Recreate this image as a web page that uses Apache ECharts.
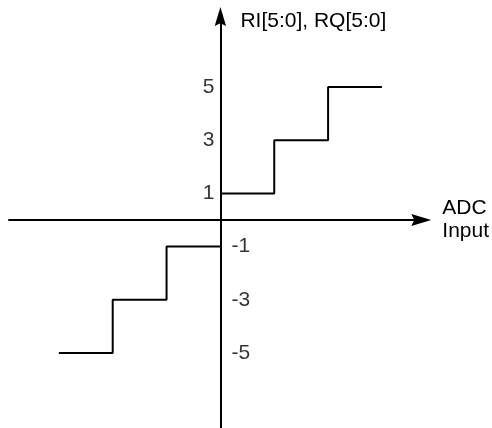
<!DOCTYPE html>
<html>
<head>
<meta charset="utf-8">
<script src="https://cdn.jsdelivr.net/npm/echarts@6/dist/echarts.min.js"></script>
<style>
  html, body { margin: 0; padding: 0; background: #fff; }
  #chart { width: 492px; height: 428px; }
</style>
</head>
<body>
<div id="chart"></div>
<script>
// staircase levels (step: 'end' draws the horizontal run first)
const posX = [0, 1, 2, 3];
const posY = [1, 3, 5, 5];
const negX = [0, -1, -2, -3];
const negY = [-1, -3, -5, -5];

// level labels on the vertical axis
const posLabels = [1, 3, 5];
const negLabels = [-1, -3, -5];

const xName = 'ADC\nInput';
const yName = 'RI[5:0], RQ[5:0]';

const font = 'Liberation Sans, Arial, Helvetica, sans-serif';
const arrowPath = 'path://M6,0 L12,20 L6,17 L0,20 Z';

const chart = echarts.init(document.getElementById('chart'));

const option = {
  animation: false,
  // axis ends sit half an arrow short of the tips
  grid: { left: 9, top: 16.5, width: 413.5, height: 411.5 },
  xAxis: {
    type: 'value',
    min: -3.926,
    max: 3.731,
    axisLine: {
      onZero: true,
      symbol: ['none', arrowPath],
      symbolSize: [12, 21],
      lineStyle: { color: '#000', width: 2 }
    },
    axisTick: { show: false },
    axisLabel: { show: false },
    splitLine: { show: false },
    name: xName,
    nameLocation: 'end',
    nameGap: 21,
    nameTextStyle: {
      color: '#000', fontSize: 21, fontFamily: font,
      align: 'left', verticalAlign: 'middle', lineHeight: 23
    }
  },
  yAxis: {
    type: 'value',
    min: -7.82,
    max: 7.65,
    axisLine: {
      onZero: true,
      symbol: ['none', arrowPath],
      symbolSize: [12, 19],
      lineStyle: { color: '#000', width: 2 }
    },
    axisTick: { show: false },
    axisLabel: { show: false },
    splitLine: { show: false },
    name: yName,
    nameLocation: 'end',
    nameGap: -5,
    nameTextStyle: {
      color: '#000', fontSize: 21, fontFamily: font,
      align: 'left', verticalAlign: 'middle',
      padding: [0, 0, 0, 20]
    }
  },
  series: [
    {
      type: 'line',
      step: 'end',
      data: posX.map((x, i) => [x, posY[i]]),
      showSymbol: false,
      lineStyle: { color: '#000', width: 2 }
    },
    {
      type: 'line',
      step: 'end',
      data: negX.map((x, i) => [x, negY[i]]),
      showSymbol: false,
      lineStyle: { color: '#000', width: 2 }
    },
    {
      type: 'scatter',
      symbolSize: 0,
      data: posLabels.map(v => [0, v]),
      label: {
        show: true, position: 'left', distance: 6,
        formatter: p => String(p.value[1]),
        color: '#000', fontSize: 21, fontFamily: font
      }
    },
    {
      type: 'scatter',
      symbolSize: 0,
      data: negLabels.map(v => [0, v]),
      label: {
        show: true, position: 'right', distance: 11,
        formatter: p => String(p.value[1]),
        color: '#000', fontSize: 21, fontFamily: font
      }
    }
  ]
};

chart.setOption(option);
</script>
</body>
</html>
